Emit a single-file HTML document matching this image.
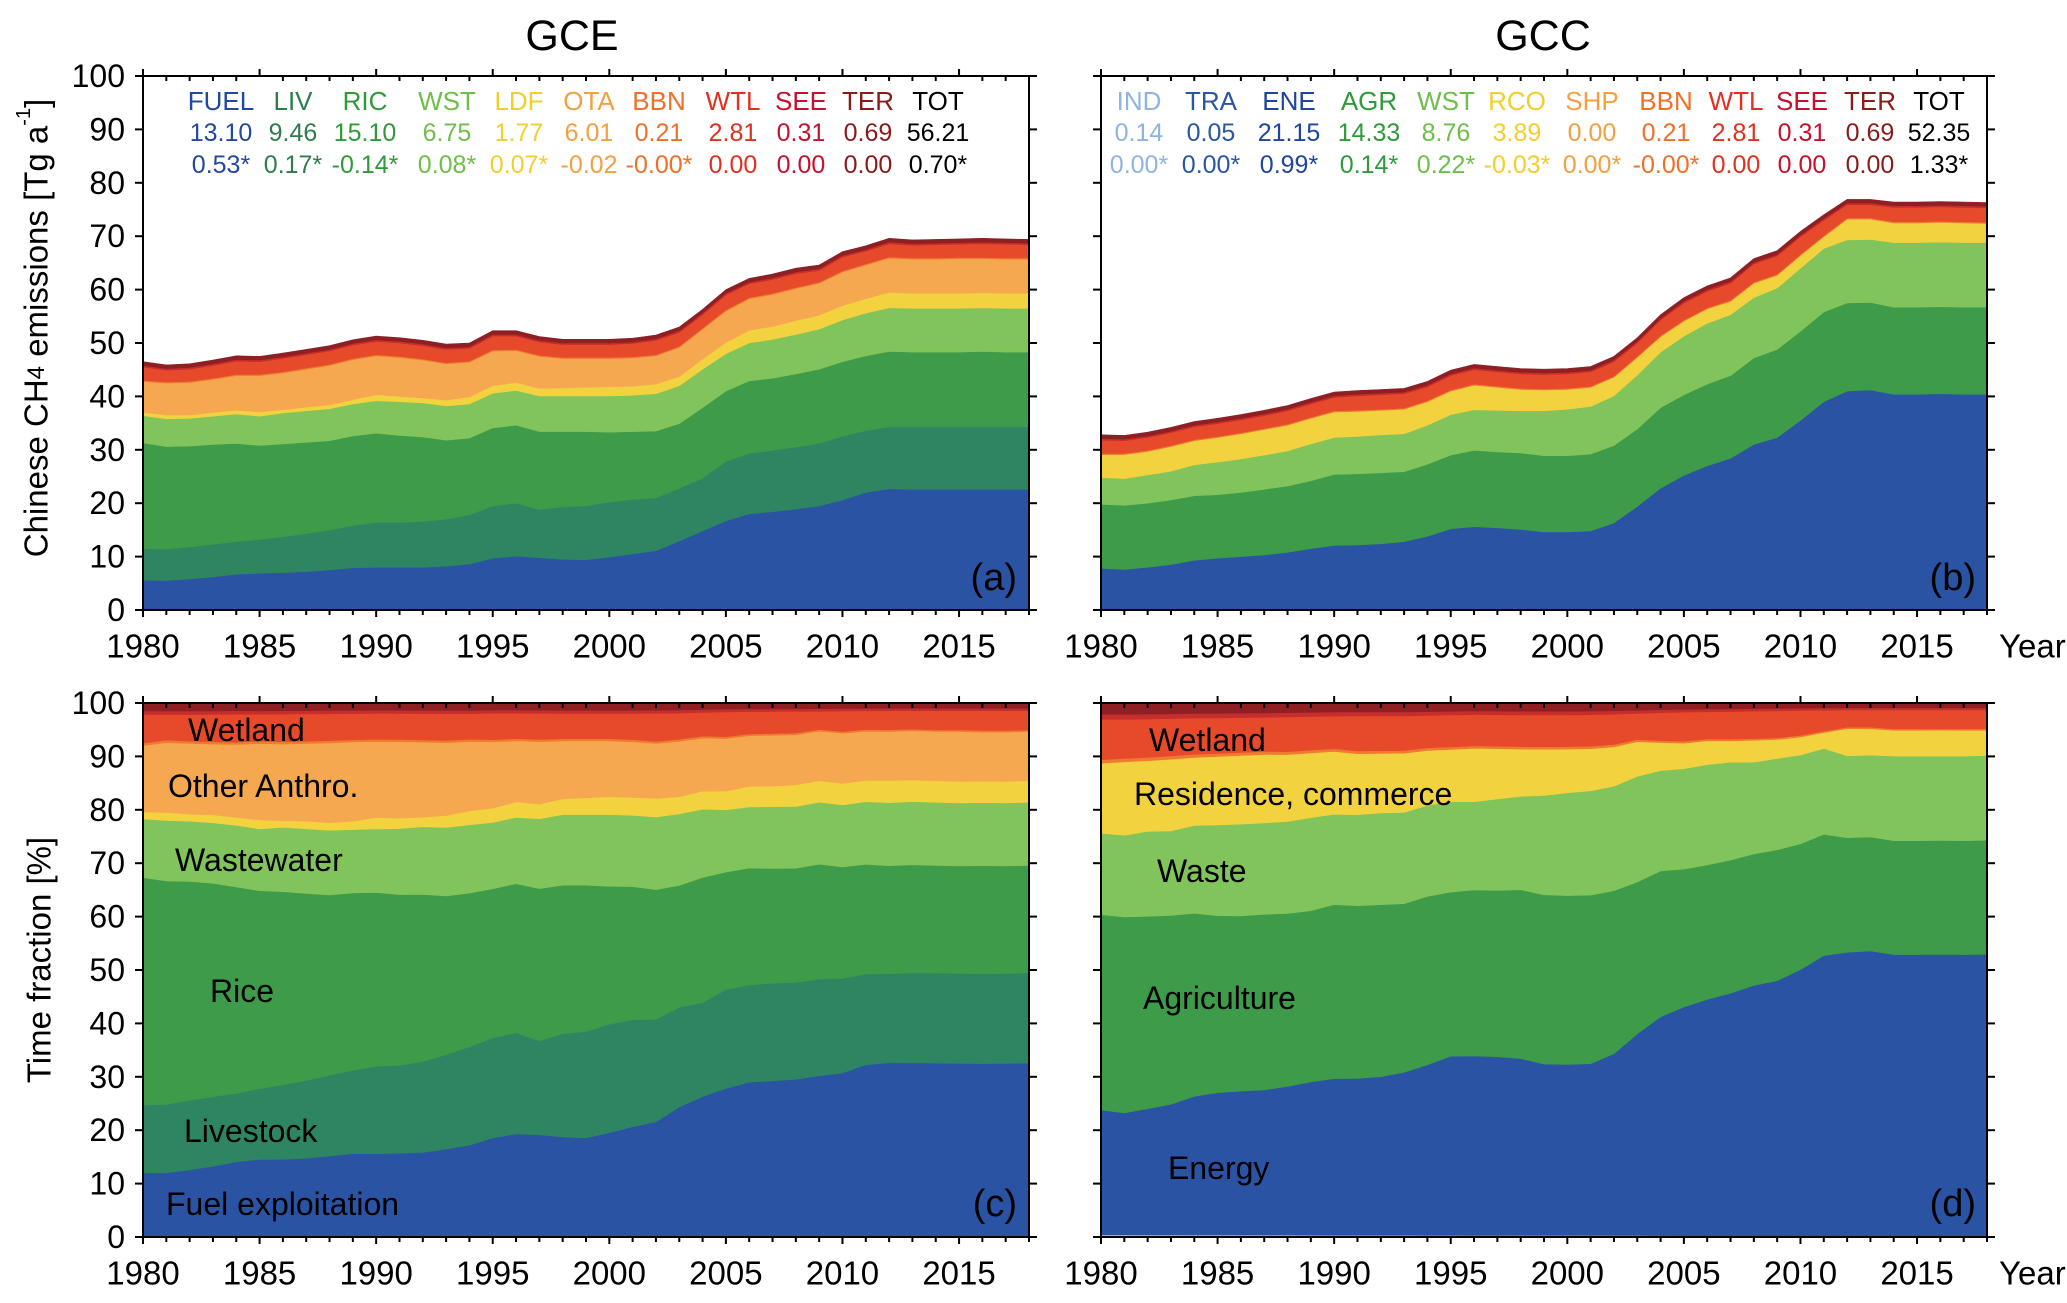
<!DOCTYPE html>
<html><head><meta charset="utf-8"><style>
html,body{margin:0;padding:0;background:#fff}
svg{display:block;font-family:"Liberation Sans",Arial,sans-serif}
</style></head><body>
<svg id="fig" width="2067" height="1303" viewBox="0 0 2067 1303" xmlns="http://www.w3.org/2000/svg"></svg>
<script>
// ===== Data =====
const years = [];
for (let y = 1980; y <= 2018; y++) years.push(y);

// Panel (a) GCE: cumulative layer tops, Tg/a
const aFuelTop = [5.6,5.5,5.8,6.2,6.7,6.9,7.0,7.2,7.5,7.9,8.0,8.0,8.0,8.2,8.6,9.7,10.1,9.8,9.5,9.4,9.9,10.5,11.1,12.9,14.8,16.7,18.0,18.4,18.9,19.5,20.6,22.0,22.7,22.6,22.6,22.6,22.6,22.6,22.6];
const aLivTop = [11.5,11.4,11.8,12.3,12.8,13.2,13.7,14.3,15.0,15.8,16.4,16.4,16.6,17.0,17.8,19.5,20.0,18.8,19.3,19.5,20.2,20.7,21.0,22.8,24.7,27.8,29.3,29.9,30.5,31.2,32.5,33.6,34.3,34.3,34.3,34.3,34.3,34.3,34.3];
const aRicTop = [31.3,30.6,30.7,31.0,31.2,30.8,31.1,31.4,31.7,32.6,33.1,32.7,32.4,31.8,32.2,34.1,34.6,33.4,33.4,33.4,33.3,33.4,33.5,34.9,37.9,41.0,42.9,43.4,44.2,45.1,46.5,47.6,48.4,48.3,48.3,48.3,48.4,48.3,48.3];
const aWstTop = [36.4,35.8,35.9,36.3,36.7,36.3,36.9,37.3,37.7,38.6,39.2,39.0,38.8,38.2,38.6,40.6,41.1,40.1,40.1,40.1,40.1,40.2,40.5,42.0,45.1,48.0,50.0,50.7,51.6,52.6,54.3,55.6,56.6,56.5,56.5,56.5,56.6,56.5,56.5];
const aLdfTop = [37.0,36.5,36.5,37.0,37.4,37.1,37.5,38.0,38.4,39.4,40.3,40.0,39.7,39.3,39.9,42.0,42.6,41.5,41.6,41.7,41.8,41.9,42.3,43.7,47.0,50.1,52.4,53.1,54.2,55.2,57.0,58.3,59.5,59.3,59.3,59.3,59.4,59.3,59.3];
const aOtaTop = [42.8,42.5,42.6,43.2,43.9,43.9,44.4,45.1,45.8,46.9,47.6,47.3,46.8,46.1,46.4,48.5,48.6,47.5,47.1,47.1,47.1,47.2,47.6,49.2,52.6,56.0,58.3,59.1,60.2,61.2,63.3,64.6,65.9,65.7,65.7,65.8,65.8,65.7,65.7];
const aTotal = [46.5,45.9,46.1,46.8,47.6,47.5,48.1,48.8,49.5,50.6,51.3,51.0,50.5,49.8,50.0,52.3,52.3,51.2,50.7,50.7,50.7,50.9,51.5,53.0,56.3,60.0,62.1,62.9,64.0,64.6,67.1,68.2,69.6,69.3,69.4,69.5,69.6,69.5,69.4];
const aBbn = 0.21, aSee = 0.31, aTer = 0.69;

// Panel (b) GCC
const bInd = 0.14, bTra = 0.05;
const bEneTop = [7.8,7.6,8.0,8.5,9.3,9.7,10.0,10.3,10.8,11.5,12.1,12.2,12.4,12.8,13.8,15.2,15.6,15.4,15.1,14.6,14.6,14.8,16.3,19.4,22.8,25.2,27.0,28.4,31.0,32.3,35.5,39.0,41.0,41.2,40.4,40.4,40.5,40.4,40.4];
const bAgrTop = [19.8,19.6,20.0,20.6,21.4,21.6,22.0,22.6,23.2,24.2,25.4,25.5,25.7,25.9,27.3,29.0,29.9,29.6,29.4,28.9,28.9,29.2,30.8,33.9,37.9,40.3,42.3,43.9,47.2,48.8,52.2,55.8,57.5,57.6,56.7,56.7,56.8,56.7,56.7];
const bWstTop = [24.8,24.6,25.3,26.0,27.2,27.7,28.3,29.0,29.8,31.1,32.3,32.5,32.8,33.0,34.6,36.6,37.5,37.4,37.3,37.3,37.6,38.1,40.1,44.0,48.3,51.3,53.7,55.3,58.5,60.3,64.0,67.7,69.3,69.4,68.8,68.8,68.9,68.8,68.8];
const bRcoTop = [29.1,29.1,29.7,30.6,31.7,32.3,33.0,33.8,34.6,35.9,37.1,37.2,37.4,37.6,39.0,41.0,42.1,41.7,41.3,41.2,41.3,41.7,43.6,47.3,51.2,54.1,56.4,57.8,61.2,62.7,66.4,69.9,73.2,73.2,72.5,72.5,72.6,72.5,72.4];
const bTotal = [32.8,32.7,33.3,34.2,35.3,35.9,36.6,37.4,38.3,39.6,40.8,41.1,41.3,41.5,42.8,44.9,46.0,45.6,45.2,45.1,45.2,45.6,47.5,51.0,55.3,58.5,60.7,62.2,65.8,67.3,70.9,74.0,76.9,76.9,76.4,76.4,76.5,76.4,76.3];
const bBbn = 0.21, bSee = 0.31, bTer = 0.69;

const yTicks = [0,10,20,30,40,50,60,70,80,90,100];
const xTickLabels = [1980,1985,1990,1995,2000,2005,2010,2015];

const legA = [["FUEL","13.10","0.53*","#2249a0"],["LIV","9.46","0.17*","#2e7d4f"],["RIC","15.10","-0.14*","#2e9a3a"],["WST","6.75","0.08*","#6dbf4a"],["LDF","1.77","0.07*","#f2cf2a"],["OTA","6.01","-0.02","#f4a040"],["BBN","0.21","-0.00*","#f07028"],["WTL","2.81","0.00","#e03020"],["SEE","0.31","0.00","#c8102e"],["TER","0.69","0.00","#8b1a1a"],["TOT","56.21","0.70*","#000"]];
const legAx = [221,293,365,447,519,589,659,733,801,868,938];
const legB = [["IND","0.14","0.00*","#8fb4e3"],["TRA","0.05","0.00*","#2a56a8"],["ENE","21.15","0.99*","#1f45a0"],["AGR","14.33","0.14*","#2e9a3a"],["WST","8.76","0.22*","#6dbf4a"],["RCO","3.89","-0.03*","#f2cf2a"],["SHP","0.00","0.00*","#f4a040"],["BBN","0.21","-0.00*","#f07028"],["WTL","2.81","0.00","#e03020"],["SEE","0.31","0.00","#c8102e"],["TER","0.69","0.00","#8b1a1a"],["TOT","52.35","1.33*","#000"]];
const legBx = [1139,1211,1289,1369,1446,1517,1592,1666,1736,1802,1870,1939];

// ===== Helpers =====
const NS = "http://www.w3.org/2000/svg";
const svg = document.getElementById("fig");
function mk(tag, attrs, parent) {
  const e = document.createElementNS(NS, tag);
  for (const k in attrs) e.setAttribute(k, attrs[k]);
  (parent || svg).appendChild(e);
  return e;
}
function txt(s, x, y, size, anchor, fill, parent) {
  const t = mk("text", {x: x, y: y, "font-size": size, "text-anchor": anchor || "start", fill: fill || "#000", "dominant-baseline": "central"}, parent);
  t.textContent = s;
  return t;
}
const C = {fuel:"#2a53a3", liv:"#2e8562", ric:"#3d9b4a", wst:"#80c45b", ldf:"#f2d33f", ota:"#f5a84f", bbn:"#f07a30", wtl:"#e64a2a", see:"#c62d2d", ter:"#8e1f22", ind:"#8fb4e3", tra:"#2a53a3"};

function makePanel(name, x0, x1, y0, y1) {
  const g = mk("g", {});
  
  
  return {g, xA: yr => x0 + (yr - 1980) * (x1 - x0) / 38, yA: v => y1 - v / 100 * (y1 - y0), x0, x1, y0, y1};
}
function layer(P, lo, hi, color, nm) {
  let d = "";
  years.forEach((yr, i) => { d += (i ? "L" : "M") + P.xA(yr).toFixed(1) + "," + P.yA(hi[i]).toFixed(1); });
  for (let i = years.length - 1; i >= 0; i--) d += "L" + P.xA(years[i]).toFixed(1) + "," + P.yA(lo[i]).toFixed(1);
  const p = mk("path", {d: d + "Z", fill: color, stroke: color, "stroke-width": 0.6}, P.g);
  
  
}
function axes(P, showY, showYear) {
  const ax = mk("g", {stroke: "#000", "stroke-width": 2, fill: "none"}, P.g);
  
  
  mk("rect", {x: P.x0, y: P.y0, width: P.x1 - P.x0, height: P.y1 - P.y0}, ax);
  years.forEach(yr => {
    const x = P.xA(yr), major = yr % 5 === 0;
    mk("line", {x1: x, y1: P.y1, x2: x, y2: P.y1 + (major ? 7 : 5)}, ax);
    mk("line", {x1: x, y1: P.y0, x2: x, y2: major ? P.y0 - 7 : P.y0 + 5}, ax);
  });
  mk("line", {x1: P.x1, y1: P.y0, x2: P.x1, y2: P.y1}, ax);
  yTicks.forEach(v => {
    const y = P.yA(v);
    mk("line", {x1: P.x0 - 8, y1: y, x2: P.x0, y2: y}, ax);
    mk("line", {x1: P.x1, y1: y, x2: P.x1 + 8, y2: y}, ax);
    if (showY) {
      const t = txt(String(v), P.x0 - 18, y, 32, "end", "#000", P.g);
      
      
    }
  });
  xTickLabels.forEach(yr => {
    const t = txt(String(yr), P.xA(yr), P.y1 + 36, 33, "middle", "#000", P.g);
    
    
  });
  if (showYear) {
    const t = txt("Year", P.x1 + 12, P.y1 + 36, 33, "start", "#000", P.g);
    
    
  }
}
function stackA(pct) {
  const f = (arr) => pct ? arr.map((v, i) => v / aTotal[i] * 100) : arr;
  const zero = years.map(() => 0);
  const bbnTop = aOtaTop.map(v => v + aBbn);
  const wtlTop = aTotal.map(v => v - aSee - aTer);
  const seeTop = aTotal.map(v => v - aTer);
  return [[zero, f(aFuelTop), C.fuel, "area-fuel"], [f(aFuelTop), f(aLivTop), C.liv, "area-livestock"], [f(aLivTop), f(aRicTop), C.ric, "area-rice"], [f(aRicTop), f(aWstTop), C.wst, "area-wastewater"], [f(aWstTop), f(aLdfTop), C.ldf, "area-landfill"], [f(aLdfTop), f(aOtaTop), C.ota, "area-other-anthro"], [f(aOtaTop), f(bbnTop), C.bbn, "area-biomass-burning"], [f(bbnTop), f(wtlTop), C.wtl, "area-wetland"], [f(wtlTop), f(seeTop), C.see, "area-seepage"], [f(seeTop), f(aTotal), C.ter, "area-termites"]];
}
function stackB(pct) {
  const f = (arr) => pct ? arr.map((v, i) => v / bTotal[i] * 100) : arr;
  const zero = years.map(() => 0);
  const indTop = years.map(() => bInd);
  const traTop = years.map(() => bInd + bTra);
  const bbnTop = bRcoTop.map(v => v + bBbn);
  const wtlTop = bTotal.map(v => v - bSee - bTer);
  const seeTop = bTotal.map(v => v - bTer);
  return [[zero, f(indTop), C.ind, "area-industry"], [f(indTop), f(traTop), C.tra, "area-transport"], [f(traTop), f(bEneTop), C.fuel, "area-energy"], [f(bEneTop), f(bAgrTop), C.ric, "area-agriculture"], [f(bAgrTop), f(bWstTop), C.wst, "area-waste"], [f(bWstTop), f(bRcoTop), C.ldf, "area-residence-commerce"], [f(bRcoTop), f(bbnTop), C.bbn, "area-biomass-burning"], [f(bbnTop), f(wtlTop), C.wtl, "area-wetland"], [f(wtlTop), f(seeTop), C.see, "area-seepage"], [f(seeTop), f(bTotal), C.ter, "area-termites"]];
}
function legend(P, items, xs) {
  const lg = mk("g", {}, P.g);
  
  
  items.forEach((it, i) => {
    [it[0], it[1], it[2]].forEach((s, r) => {
      const t = txt(s, xs[i], 101 + r * 32, r === 0 ? 26 : 25, "middle", it[3], lg);
      
      
    });
  });
}
function labels(P, list) {
  list.forEach(l => {
    const t = txt(l[0], l[1], l[2], l[0][0] === "(" ? 38 : 32, l[3] || "start", "#000", P.g);
    
    
  });
}

// Panel a
const PA = makePanel("panel-a-gce-emissions", 143, 1029, 76, 610);
stackA(false).forEach(s => layer(PA, s[0], s[1], s[2], s[3]));
axes(PA, true, false);
legend(PA, legA, legAx);
labels(PA, [["(a)", 1017, 578, "end", "panel-label"]]);

// Panel b
const PB = makePanel("panel-b-gcc-emissions", 1101, 1987, 76, 610);
stackB(false).forEach(s => layer(PB, s[0], s[1], s[2], s[3]));
axes(PB, false, true);
legend(PB, legB, legBx);
labels(PB, [["(b)", 1976, 578, "end", "panel-label"]]);

// Panel c
const PC = makePanel("panel-c-gce-fraction", 143, 1029, 703, 1237);
stackA(true).forEach(s => layer(PC, s[0], s[1], s[2], s[3]));
axes(PC, true, false);
labels(PC, [["Wetland", 188, 730, "start", "label-wetland"], ["Other Anthro.", 168, 786, "start", "label-other-anthro"], ["Wastewater", 175, 860, "start", "label-wastewater"], ["Rice", 210, 991, "start", "label-rice"], ["Livestock", 184, 1131, "start", "label-livestock"], ["Fuel exploitation", 166, 1204, "start", "label-fuel-exploitation"], ["(c)", 1017, 1204, "end", "panel-label"]]);

// Panel d
const PD = makePanel("panel-d-gcc-fraction", 1101, 1987, 703, 1237);
stackB(true).forEach(s => layer(PD, s[0], s[1], s[2], s[3]));
axes(PD, false, true);
labels(PD, [["Wetland", 1149, 740, "start", "label-wetland"], ["Residence, commerce", 1134, 794, "start", "label-residence-commerce"], ["Waste", 1157, 871, "start", "label-waste"], ["Agriculture", 1143, 998, "start", "label-agriculture"], ["Energy", 1168, 1168, "start", "label-energy"], ["(d)", 1976, 1204, "end", "panel-label"]]);

// Titles
let t = txt("GCE", 572, 36, 43, "middle", "#000");


t = txt("GCC", 1543, 36, 43, "middle", "#000");



// Y axis titles
const yt1 = mk("text", {x: 0, y: 0, "font-size": 33, "text-anchor": "middle", "dominant-baseline": "central", transform: "translate(36,328) rotate(-90)"});


yt1.innerHTML = 'Chinese CH<tspan font-size="24">4</tspan> emissions [Tg a<tspan font-size="20" dy="-12">-1</tspan><tspan dy="12">]</tspan>';
const yt2 = mk("text", {x: 0, y: 0, "font-size": 33, "text-anchor": "middle", "dominant-baseline": "central", transform: "translate(39,960) rotate(-90)"});


yt2.textContent = "Time fraction [%]";
</script>
</body></html>
